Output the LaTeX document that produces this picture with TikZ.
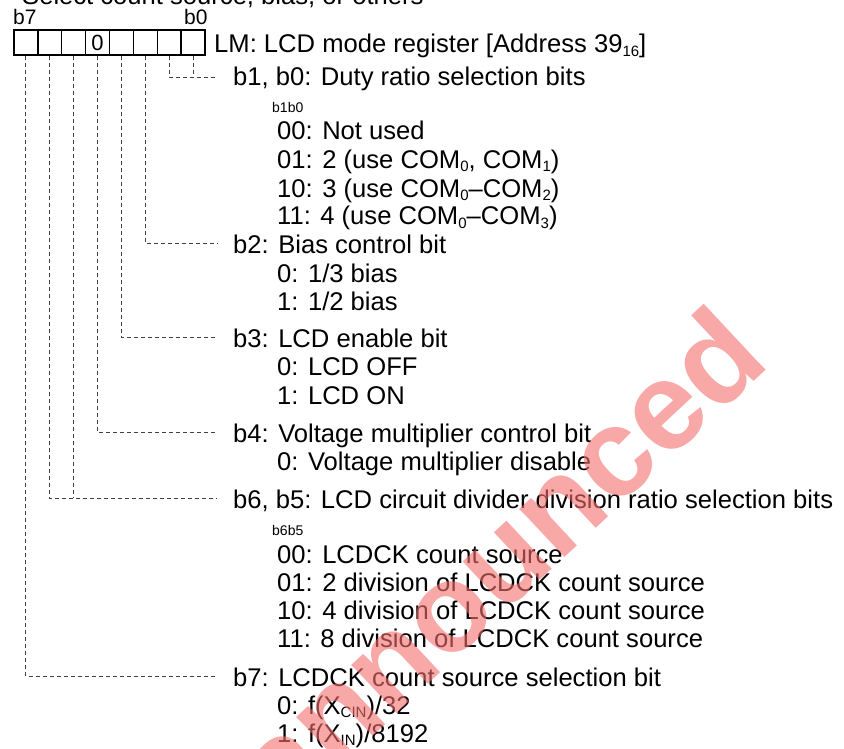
\documentclass[tikz,border=0pt]{standalone}
\usepackage{fontspec}
\setmainfont{Liberation Sans}
\usetikzlibrary{calc}
\definecolor{wm}{RGB}{245,110,110}
\newcommand\lsub[1]{\raisebox{-0.12em}{\fontsize{15}{15}\selectfont #1}}
\begin{document}
\begin{tikzpicture}[x=1pt,y=-1pt,
  txt/.style={anchor=base west, inner sep=0, font=\fontsize{25.6}{28}\selectfont},
  small/.style={anchor=base west, inner sep=0, font=\fontsize{14}{14}\selectfont},
  blab/.style={anchor=base west, inner sep=0, font=\fontsize{21}{21}\selectfont},
  cell/.style={draw, line width=1.3pt, minimum width=23.875pt, minimum height=25pt, inner sep=0, font=\fontsize{22}{22}\selectfont},
  lead/.style={draw=black!75, line width=0.9pt, dash pattern=on 4pt off 3pt}]
\useasboundingbox (0,0) rectangle (844,749);
\clip (0,0) rectangle (844,749);
% cut-off heading
\node[txt] (head) at (22,5) {Select count source, bias, or others};
% bit labels
\node[blab] (lb7) at (13,25) {b7};
\node[blab] (lb0) at (184,25) {b0};
% register cells
\node[cell] (c7) at (25.94,42.5) {};
\node[cell] (c6) at (49.81,42.5) {};
\node[cell] (c5) at (73.69,42.5) {};
\node[cell] (c4) at (97.56,42.5) {0};
\node[cell] (c3) at (121.44,42.5) {};
\node[cell] (c2) at (145.31,42.5) {};
\node[cell] (c1) at (169.19,42.5) {};
\node[cell] (c0) at (193.06,42.5) {};
% texts
\node[txt] (tlm) at (214,53) {LM: LCD mode register [Address 39\lsub{16}]};
\node[txt] (t10) at (233,86) {b1, b0: Duty ratio selection bits};
\node[small] (s10) at (272,113) {b1b0};
\node[txt] (a1) at (277,140) {00: Not used};
\node[txt] (a2) at (277,168) {01: 2 (use COM\lsub{0}, COM\lsub{1})};
\node[txt] (a3) at (277,197) {10: 3 (use COM\lsub{0}–COM\lsub{2})};
\node[txt] (a4) at (277,225) {11: 4 (use COM\lsub{0}–COM\lsub{3})};
\node[txt] (t2) at (233,253) {b2: Bias control bit};
\node[txt] (b1) at (277,282) {0: 1/3 bias};
\node[txt] (b2) at (277,310) {1: 1/2 bias};
\node[txt] (t3) at (233,347) {b3: LCD enable bit};
\node[txt] (d1) at (277,375) {0: LCD OFF};
\node[txt] (d2) at (277,404) {1: LCD ON};
\node[txt] (t4) at (233,442) {b4: Voltage multiplier control bit};
\node[txt] (e1) at (277,470) {0: Voltage multiplier disable};
\node[txt] (t65) at (233,508) {b6, b5: LCD circuit divider division ratio selection bits};
\node[small] (s65) at (272,535) {b6b5};
\node[txt] (f1) at (277,563) {00: LCDCK count source};
\node[txt] (f2) at (277,591) {01: 2 division of LCDCK count source};
\node[txt] (f3) at (277,619) {10: 4 division of LCDCK count source};
\node[txt] (f4) at (277,647) {11: 8 division of LCDCK count source};
\node[txt] (t7) at (233,686) {b7: LCDCK count source selection bit};
\node[txt] (g1) at (277,714) {0: f(X\lsub{CIN})/32};
\node[txt] (g2) at (277,742) {1: f(X\lsub{IN})/8192};
% leader ends
\coordinate (h10) at ($(t10.base west)+(-16,-9)$);
\coordinate (h2) at ($(t2.base west)+(-16,-10)$);
\coordinate (h3) at ($(t3.base west)+(-16,-10)$);
\coordinate (h4) at ($(t4.base west)+(-16,-10)$);
\coordinate (h65) at ($(t65.base west)+(-16,-10)$);
\coordinate (h7) at ($(t7.base west)+(-16,-10)$);
% leaders
\draw[lead] (c1.south) |- (h10);
\draw[lead] (c0.south) -- (c0.south |- h10);
\draw[lead] (c2.south) |- (h2);
\draw[lead] (c3.south) |- (h3);
\draw[lead] (c4.south) |- (h4);
\draw[lead] (c5.south) -- (c5.south |- h65);
\draw[lead] (c6.south) |- (h65);
\draw[lead] (c7.south) |- (h7);
% watermark
\node[rotate=43, anchor=base east, inner sep=0, font=\fontsize{125}{125}\selectfont\bfseries, text=wm, text opacity=0.6] (wmk) at (772,364) {announced};
\end{tikzpicture}
\end{document}
